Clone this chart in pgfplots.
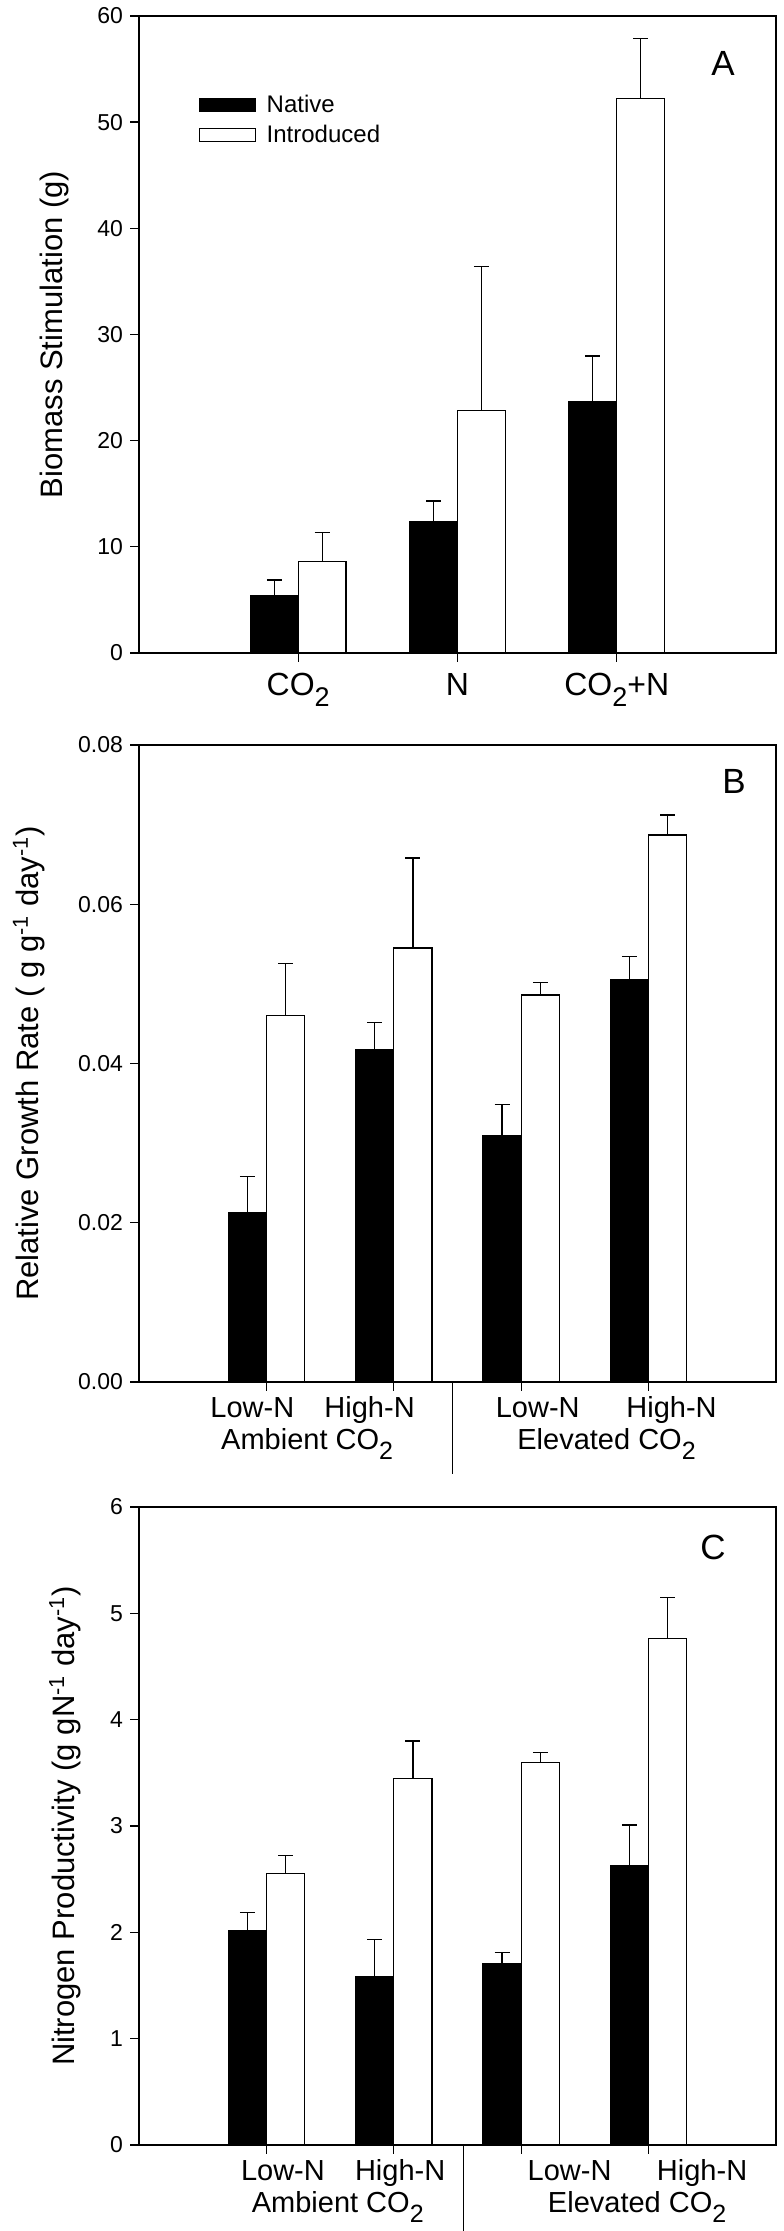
\documentclass[border=0pt]{standalone}
\usepackage{pgfplots}
\pgfplotsset{compat=1.18}
\usepackage{fontspec}
\setmainfont{Liberation Sans}
\newcommand{\two}{\raisebox{-0.32em}{\fontsize{12.5}{14}\selectfont 2}}
\newcommand{\twoA}{\raisebox{-0.32em}{\fontsize{13.5}{15}\selectfont 2}}
\tikzset{
  lab/.style={font=\fontsize{14.5}{17}\selectfont, anchor=base},
  labA/.style={font=\fontsize{16}{19}\selectfont, anchor=base},
  letter/.style={font=\fontsize{17.5}{20}\selectfont},
}
\begin{document}
\begin{tikzpicture}
\useasboundingbox (0,0) rectangle (391.5pt,1115.5pt);
\pgfplotsset{
  panel/.style={
    scale only axis, width=318.5pt, height=318.5pt,
    anchor=south west,
    xmin=0, ymin=0,
    axis line style={line width=0.65pt},
    tick pos=left, tick align=outside,
    major tick length=4.5pt,
    tick style={line width=0.65pt, black},
    /pgf/number format/assume math mode=true,
    tick label style={font=\fontsize{11.5}{13}\selectfont},
    ylabel style={font=\fontsize{15.5}{18}\selectfont, anchor=center},
    clip=false,
    ybar, bar width=0.3, bar shift=0pt,
    xticklabels={},
    scaled y ticks=false,
  },
  errs/.style={
    error bars/y dir=plus, error bars/y explicit,
    error bars/error mark=|,
    error bars/error bar style={line width=0.6pt, black},
    error bars/error mark options={mark size=3.75pt, line width=0.6pt, black}},
  native/.style={fill=black, draw=black, line width=0.5pt, errs},
  intro/.style={fill=white, draw=black, line width=0.6pt, errs},
}
% ---------------- Panel A ----------------
\begin{axis}[panel, at={(69.5pt,789pt)},
  xmax=4, ymax=60, xtick={1,2,3}, ytick={0,10,20,30,40,50,60},
  ylabel={Biomass Stimulation (g)},
  ylabel style={at={(axis description cs:-0.132,0.5)}},
  legend style={draw=none, fill=none, at={(axis cs:0.375,53.0)}, anchor=north west,
    font=\fontsize{12}{14}\selectfont, row sep=1pt, inner sep=0pt},
  legend cell align=left,
  legend image code/.code={\draw[#1] (0pt,-3.25pt) rectangle (28pt,3.25pt); \path[draw=none, fill=none] (0pt,0pt) -- (31.5pt,0pt);},
]
\addplot[native] table[x=x, y=y, y error=e] {
x y e
0.85 5.41 1.47
1.85 12.37 1.95
2.85 23.70 4.28
};
\addlegendentry{Native}
\addplot[intro] table[x=x, y=y, y error=e] {
x y e
1.15 8.65 2.73
2.15 22.84 13.54
3.15 52.25 5.66
};
\addlegendentry{Introduced}
\node[labA] at (axis cs:1,0) [yshift=-21.5pt] {CO\twoA};
\node[labA] at (axis cs:2,0) [yshift=-21.5pt] {N};
\node[labA] at (axis cs:3,0) [yshift=-21.5pt] {CO\twoA+N};
\node[letter] at (rel axis cs:0.917,0.926) {A};
\end{axis}
% ---------------- Panel B ----------------
\begin{axis}[panel, at={(69.5pt,424.5pt)},
  xmax=5, ymax=0.08, xtick={1,2,3,4}, ytick={0,0.02,0.04,0.06,0.08},
  yticklabel style={/pgf/number format/fixed, /pgf/number format/fixed zerofill,
    /pgf/number format/precision=2},
  ylabel={Relative Growth Rate ( g g\textsuperscript{-1} day\textsuperscript{-1})},
  ylabel style={at={(axis description cs:-0.173,0.5)}},
]
\addplot[native] table[x=x, y=y, y error=e] {
x y e
0.85 0.0213 0.0045
1.85 0.0418 0.0033
2.85 0.0310 0.0038
3.85 0.0506 0.0028
};
\addplot[intro] table[x=x, y=y, y error=e] {
x y e
1.15 0.0460 0.0066
2.15 0.0545 0.0113
3.15 0.0486 0.0016
4.15 0.0687 0.0025
};
\node[lab] at (axis cs:0.89,0) [yshift=-18pt] {Low-N};
\node[lab] at (axis cs:1.81,0) [yshift=-18pt] {High-N};
\node[lab] at (axis cs:3.13,0) [yshift=-18pt] {Low-N};
\node[lab] at (axis cs:4.18,0) [yshift=-18pt] {High-N};
\node[lab] at (axis cs:1.32,0) [yshift=-34pt] {Ambient CO\two};
\node[lab] at (axis cs:3.67,0) [yshift=-34pt] {Elevated CO\two};
\draw[line width=0.5pt] (axis cs:2.46,0) -- ++(0pt,-46pt);
\node[letter] at (rel axis cs:0.934,0.943) {B};
\end{axis}
% ---------------- Panel C ----------------
\begin{axis}[panel, at={(69.5pt,43pt)}, height=319pt,
  xmax=5, ymax=6, xtick={1,2,3,4}, ytick={0,1,2,3,4,5,6},
  ylabel={Nitrogen Productivity (g gN\textsuperscript{-1} day\textsuperscript{-1})},
  ylabel style={at={(axis description cs:-0.116,0.5)}},
]
\addplot[native] table[x=x, y=y, y error=e] {
x y e
0.85 2.02 0.17
1.85 1.58 0.35
2.85 1.71 0.10
3.85 2.63 0.38
};
\addplot[intro] table[x=x, y=y, y error=e] {
x y e
1.15 2.55 0.17
2.15 3.45 0.35
3.15 3.60 0.09
4.15 4.76 0.39
};
\node[lab] at (axis cs:1.13,0) [yshift=-18pt] {Low-N};
\node[lab] at (axis cs:2.05,0) [yshift=-18pt] {High-N};
\node[lab] at (axis cs:3.38,0) [yshift=-18pt] {Low-N};
\node[lab] at (axis cs:4.42,0) [yshift=-18pt] {High-N};
\node[lab] at (axis cs:1.56,0) [yshift=-34pt] {Ambient CO\two};
\node[lab] at (axis cs:3.91,0) [yshift=-34pt] {Elevated CO\two};
\draw[line width=0.5pt] (axis cs:2.55,0) -- ++(0pt,-43pt);
\node[letter] at (rel axis cs:0.901,0.937) {C};
\end{axis}
\end{tikzpicture}
\end{document}
